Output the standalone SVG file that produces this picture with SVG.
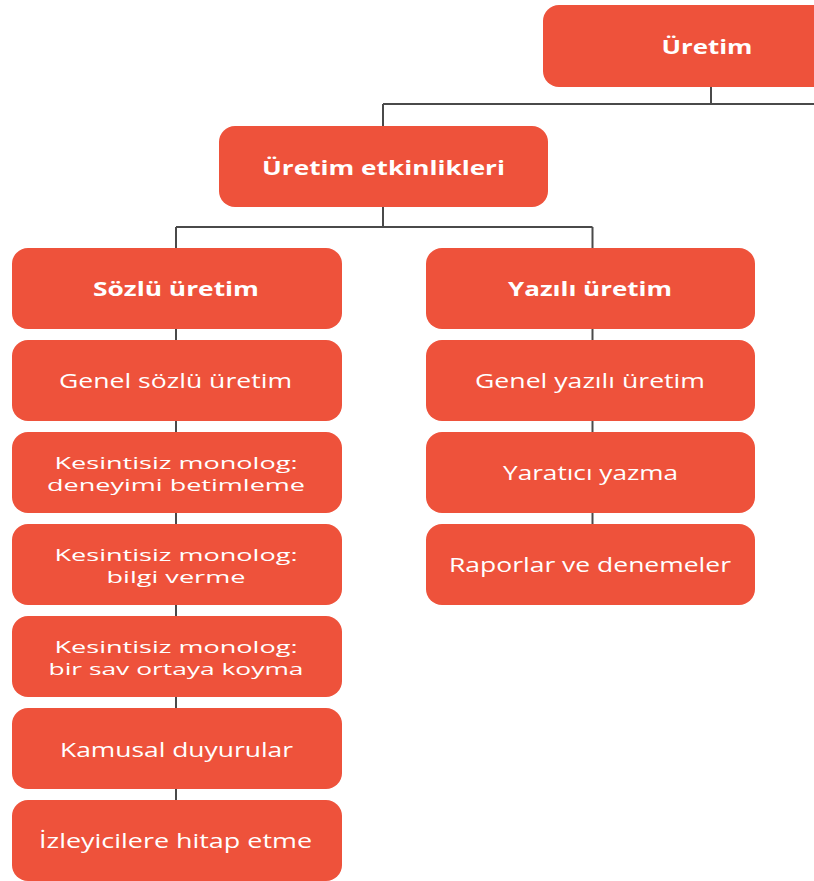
<svg xmlns="http://www.w3.org/2000/svg" width="814" height="881" viewBox="0 0 814 881">
  <style>
    .box { fill: #EE523B; }
    .lbl { fill: #FFFFFF; font-family: "Open Sans", "Noto Sans", "DejaVu Sans", sans-serif; font-size: 19.5px; text-anchor: middle; }
    .bold { font-weight: bold; font-size: 20px; }
    .two { font-size: 16.5px; }
    .wire { fill: none; stroke: #4A4A4A; stroke-width: 2; }
  </style>

  <rect width="814" height="881" fill="#FFFFFF"/>

  <!-- connectors -->
  <g id="connectors" class="wire">
    <path d="M711 87 V104 M383 104 H814 M383 104 V126"/>
    <path d="M383 207 V227 M176 227 H592.5 M176 227 V248 M592.5 227 V248"/>
    <path d="M176 329 V800"/>
    <path d="M592.5 329 V524"/>
  </g>

  <!-- root -->
  <g id="uretim">
    <rect class="box" x="543" y="5" width="300" height="82" rx="16"/>
    <text class="lbl bold" x="707" y="54" textLength="91" lengthAdjust="spacingAndGlyphs">Üretim</text>
  </g>

  <g id="uretim-etkinlikleri">
    <rect class="box" x="219" y="126" width="329" height="81" rx="16"/>
    <text class="lbl bold" x="383.5" y="175" textLength="243" lengthAdjust="spacingAndGlyphs">Üretim etkinlikleri</text>
  </g>

  <!-- spoken production column -->
  <g id="sozlu-uretim">
    <rect class="box" x="12" y="248" width="330" height="81" rx="16"/>
    <text class="lbl bold" x="176" y="296" textLength="166" lengthAdjust="spacingAndGlyphs">Sözlü üretim</text>
  </g>

  <g id="genel-sozlu">
    <rect class="box" x="12" y="340" width="330" height="81" rx="16"/>
    <text class="lbl" x="175.5" y="388" textLength="233" lengthAdjust="spacingAndGlyphs">Genel sözlü üretim</text>
  </g>

  <g id="monolog-betimleme">
    <rect class="box" x="12" y="432" width="330" height="81" rx="16"/>
    <text class="lbl two" x="176" y="469" textLength="243" lengthAdjust="spacingAndGlyphs">Kesintisiz monolog:</text>
    <text class="lbl two" x="176" y="491" textLength="258" lengthAdjust="spacingAndGlyphs">deneyimi betimleme</text>
  </g>

  <g id="monolog-bilgi">
    <rect class="box" x="12" y="524" width="330" height="81" rx="16"/>
    <text class="lbl two" x="176" y="561" textLength="243" lengthAdjust="spacingAndGlyphs">Kesintisiz monolog:</text>
    <text class="lbl two" x="176" y="583" textLength="139" lengthAdjust="spacingAndGlyphs">bilgi verme</text>
  </g>

  <g id="monolog-sav">
    <rect class="box" x="12" y="616" width="330" height="81" rx="16"/>
    <text class="lbl two" x="176" y="653" textLength="243" lengthAdjust="spacingAndGlyphs">Kesintisiz monolog:</text>
    <text class="lbl two" x="176" y="675" textLength="255" lengthAdjust="spacingAndGlyphs">bir sav ortaya koyma</text>
  </g>

  <g id="kamusal-duyurular">
    <rect class="box" x="12" y="708" width="330" height="81" rx="16"/>
    <text class="lbl" x="176.5" y="757" textLength="233" lengthAdjust="spacingAndGlyphs">Kamusal duyurular</text>
  </g>

  <g id="izleyicilere-hitap">
    <rect class="box" x="12" y="800" width="330" height="81" rx="16"/>
    <text class="lbl" x="175.5" y="848" textLength="273" lengthAdjust="spacingAndGlyphs">İzleyicilere hitap etme</text>
  </g>

  <!-- written production column -->
  <g id="yazili-uretim">
    <rect class="box" x="426" y="248" width="329" height="81" rx="16"/>
    <text class="lbl bold" x="590" y="296" textLength="164" lengthAdjust="spacingAndGlyphs">Yazılı üretim</text>
  </g>

  <g id="genel-yazili">
    <rect class="box" x="426" y="340" width="329" height="81" rx="16"/>
    <text class="lbl" x="590" y="388" textLength="230" lengthAdjust="spacingAndGlyphs">Genel yazılı üretim</text>
  </g>

  <g id="yaratici-yazma">
    <rect class="box" x="426" y="432" width="329" height="81" rx="16"/>
    <text class="lbl" x="590.5" y="480" textLength="175" lengthAdjust="spacingAndGlyphs">Yaratıcı yazma</text>
  </g>

  <g id="raporlar-denemeler">
    <rect class="box" x="426" y="524" width="329" height="81" rx="16"/>
    <text class="lbl" x="590" y="572" textLength="282" lengthAdjust="spacingAndGlyphs">Raporlar ve denemeler</text>
  </g>
</svg>
